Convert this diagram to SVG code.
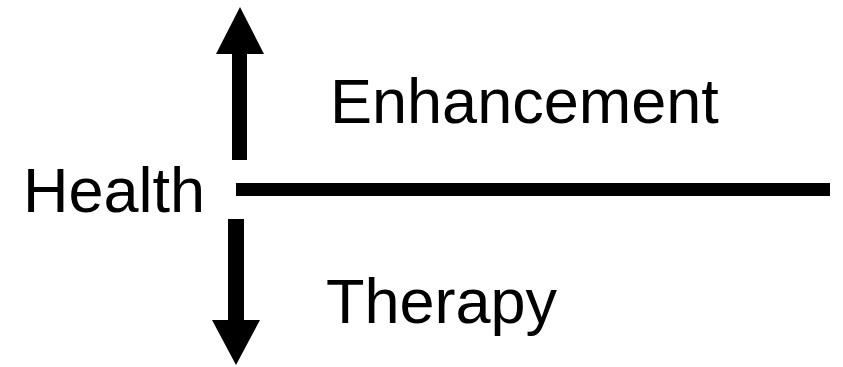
<svg xmlns="http://www.w3.org/2000/svg" width="843" height="367" viewBox="0 0 843 367">
  <style>
    .lbl { font-family: "Liberation Sans", Arial, sans-serif; font-size: 63px; fill: #000; }
    .bar { fill: #000; }
  </style>
  <rect width="843" height="367" fill="#fff"/>
  <g id="connectors">
    <!-- upward arrow -->
    <g id="arrow-up">
      <rect class="bar" x="232" y="52" width="15" height="108"/>
      <polygon class="bar" points="240,7 264,54 216,54"/>
    </g>
    <!-- baseline -->
    <rect id="baseline" class="bar" x="236" y="183" width="594" height="13"/>
    <!-- downward arrow -->
    <g id="arrow-down">
      <rect class="bar" x="228" y="219" width="16" height="103"/>
      <polygon class="bar" points="212,320 260,320 236,365"/>
    </g>
  </g>
  <g id="health"><text class="lbl" x="23" y="212">Health</text></g>
  <g id="enhancement"><text class="lbl" x="330" y="123">Enhancement</text></g>
  <g id="therapy"><text class="lbl" x="326" y="323">Therapy</text></g>
</svg>
